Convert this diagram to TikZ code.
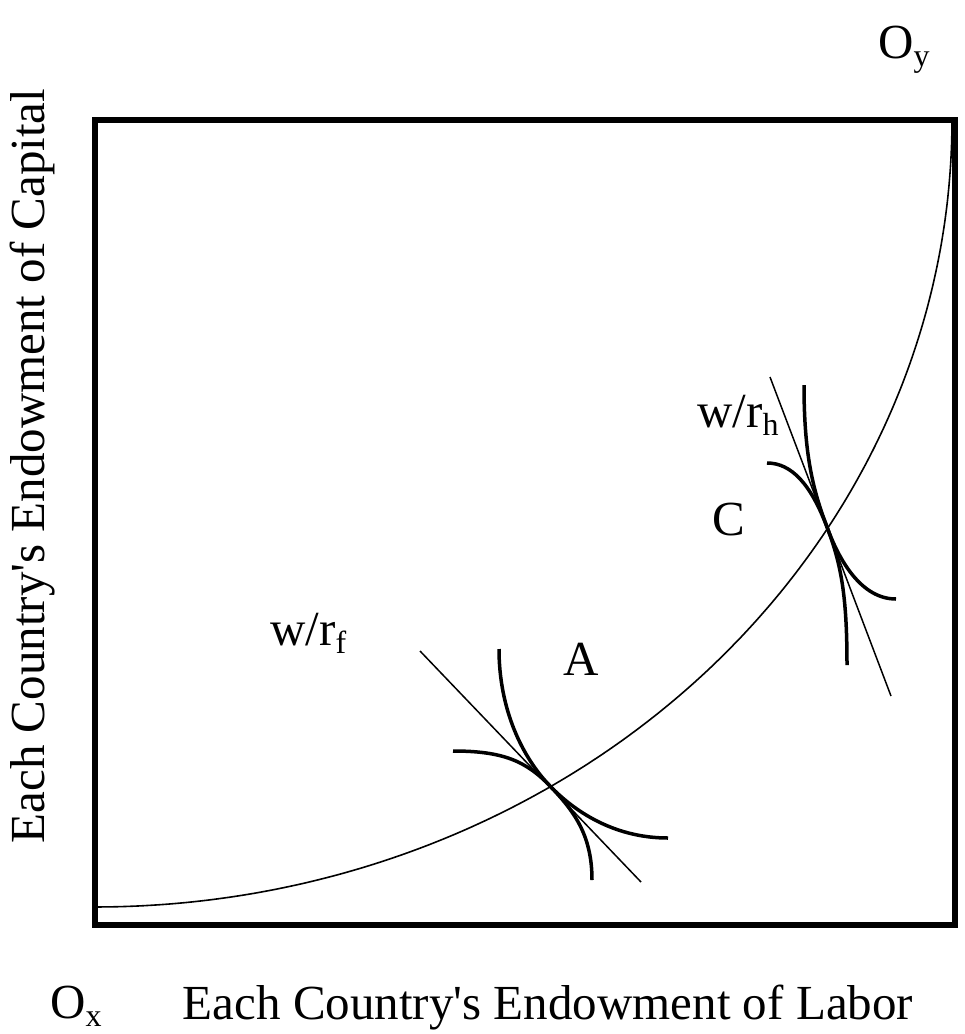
\documentclass[tikz,border=0pt]{standalone}
\usepackage{fontspec}
\setmainfont{Liberation Serif}
\newcommand{\sbs}[1]{\raisebox{-0.18em}{\fontsize{32}{32}\selectfont #1}}
\begin{document}
\begin{tikzpicture}[x=1pt,y=-1pt,
  lbl/.style={inner sep=0pt, font=\fontsize{49}{58}\selectfont},
  frame/.style={line width=6pt},
  curveline/.style={line width=1.6pt},
  tline/.style={line width=1.5pt},
  iso/.style={line width=3.5pt}]
\useasboundingbox (0,0) rectangle (965,1034);
\draw[frame] (95,120) rectangle (955,925);
\draw[curveline] plot[domain=0:90,samples=150,smooth] ({95+857*cos(\x)},{120+787*sin(\x)});
\coordinate (A) at (550,786);
\coordinate (C) at (827,527);
% tangent lines
\coordinate (TA1) at (420,651);
\coordinate (TA2) at (641,882);
\coordinate (TC1) at (770,377);
\coordinate (TC2) at (891,696);
\draw[tline] (TA1) -- (TA2);
\draw[tline] (TC1) -- (TC2);
% isoquants at A
\draw[iso] (453,751) .. controls (503,751) and (526,761) .. (A) .. controls (578,815) and (618,838) .. (668,838);
\draw[iso] (499,649) .. controls (499,709) and (522,757) .. (A) .. controls (574,811) and (592,835) .. (592,880);
% isoquants at C
\draw[iso] (804,385) .. controls (804,455) and (813,490) .. (C) .. controls (841,564) and (847,595) .. (847,665);
\draw[iso] (767,463) .. controls (792,463) and (811,485) .. (C) .. controls (839,560) and (861,599) .. (896,599);
% labels
\node[lbl, anchor=base] (xlab) at (548,1019) {Each Country\textquotesingle s Endowment of Labor};
\node[lbl, anchor=base, rotate=90] (ylab) at (45,466) {Each Country\textquotesingle s Endowment of Capital};
\node[lbl, anchor=base west] (Ox) at (50,1018) {O\sbs{x}};
\node[lbl, anchor=base west] (Oy) at (878,58) {O\sbs{y}};
\node[lbl, anchor=base west] (wrf) at (270,645) {w/r\sbs{f}};
\node[lbl, anchor=base west] (wrh) at (697,427) {w/r\sbs{h}};
\node[lbl, anchor=base west] (lA) at (563,675) {A};
\node[lbl, anchor=base west] (lC) at (712,535) {C};
\end{tikzpicture}
\end{document}
